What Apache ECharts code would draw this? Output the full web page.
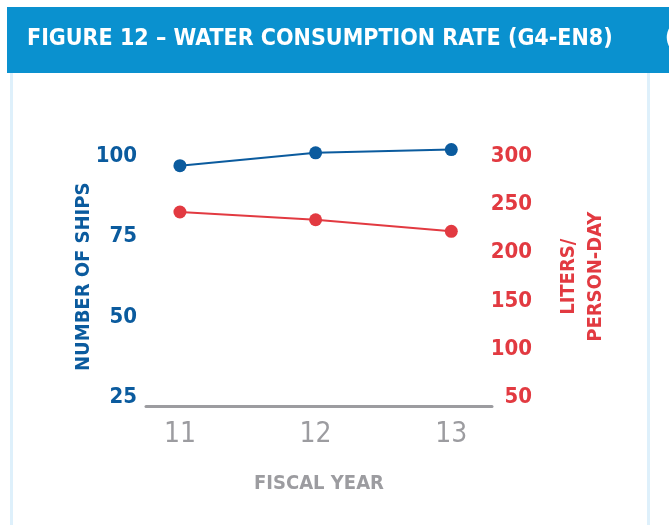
<!DOCTYPE html>
<html>
<head>
<meta charset="utf-8">
<style>
  html, body { margin: 0; padding: 0; background: #ffffff; }
  #chart { width: 669px; height: 525px; }
</style>
<script src="https://cdn.jsdelivr.net/npm/echarts@6/dist/echarts.min.js"></script>
</head>
<body>
<div id="chart"></div>
<script>
// Fiscal years on the horizontal axis
const fiscalYears = [11, 12, 13];
// Number of ships per fiscal year (left axis)
const shipCounts = [97, 101, 102];
// Water consumption, liters per person-day (right axis)
const litersPerPersonDay = [242, 234, 222];
// Tick labels
const shipTicks = [25, 50, 75, 100];
const literTicks = [50, 100, 150, 200, 250, 300];

const condensed = "'DejaVu Sans Condensed', 'Liberation Sans', sans-serif";
const BLUE = '#0b5b9e';
const RED = '#e23a41';
const GREY = '#9c9ca0';

const chart = echarts.init(document.getElementById('chart'), null, { renderer: 'canvas' });

chart.setOption({
  animation: false,
  backgroundColor: '#ffffff',
  graphic: [
    // header band and panel edges
    { type: 'rect', shape: { x: 7, y: 7, width: 662, height: 66 }, style: { fill: '#0a91cf' }, silent: true },
    { type: 'rect', shape: { x: 10, y: 73, width: 3, height: 452 }, style: { fill: '#def0fb' }, silent: true },
    { type: 'rect', shape: { x: 647, y: 73, width: 3, height: 452 }, style: { fill: '#def0fb' }, silent: true },
    {
      type: 'text', left: 27, top: 28,
      style: { text: 'FIGURE 12 – WATER CONSUMPTION RATE (G4-EN8)', fill: '#ffffff',
               font: "bold 23px " + condensed }
    },
    {
      type: 'text', left: 665, top: 28,
      style: { text: '(', fill: '#ffffff', font: "bold 23px " + condensed }
    }
  ],
  grid: { left: 146, right: 177, top: 156, bottom: 127.5 },
  xAxis: {
    type: 'value',
    min: 10.75,
    max: 13.3,
    offset: 9,
    axisLine: { show: true, lineStyle: { color: GREY, width: 3 } },
    axisTick: { show: false },
    splitLine: { show: false },
    axisLabel: {
      customValues: fiscalYears,
      color: GREY,
      fontFamily: condensed,
      fontSize: 28,
      margin: 14
    },
    name: 'FISCAL YEAR',
    nameLocation: 'middle',
    nameGap: 67,
    nameMoveOverlap: false,
    nameTextStyle: { color: GREY, fontFamily: condensed, fontWeight: 'bold', fontSize: 20 }
  },
  yAxis: [
    {
      type: 'value',
      position: 'left',
      min: shipTicks[0],
      max: shipTicks[shipTicks.length - 1],
      interval: shipTicks[1] - shipTicks[0],
      axisLine: { show: false },
      axisTick: { show: false },
      splitLine: { show: false },
      axisLabel: { color: BLUE, fontFamily: condensed, fontWeight: 'bold', fontSize: 22, margin: 9 },
      name: 'NUMBER OF SHIPS',
      nameLocation: 'middle',
      nameRotate: 90,
      nameGap: 52,
      nameMoveOverlap: false,
      nameTextStyle: { color: BLUE, fontFamily: condensed, fontWeight: 'bold', fontSize: 20 }
    },
    {
      type: 'value',
      position: 'right',
      min: literTicks[0],
      max: literTicks[literTicks.length - 1],
      interval: literTicks[1] - literTicks[0],
      axisLine: { show: false },
      axisTick: { show: false },
      splitLine: { show: false },
      axisLabel: { color: RED, fontFamily: condensed, fontWeight: 'bold', fontSize: 22, margin: 40, align: 'right' },
      name: 'LITERS/\nPERSON-DAY',
      nameLocation: 'middle',
      nameRotate: 90,
      nameGap: 63,
      nameMoveOverlap: false,
      nameTextStyle: { color: RED, fontFamily: condensed, fontWeight: 'bold', fontSize: 20, lineHeight: 27, align: 'center' }
    }
  ],
  series: [
    {
      name: 'Ships',
      type: 'line',
      yAxisIndex: 0,
      clip: false,
      data: fiscalYears.map((y, i) => [y, shipCounts[i]]),
      symbol: 'circle',
      symbolSize: 13,
      itemStyle: { color: BLUE },
      lineStyle: { color: BLUE, width: 2 }
    },
    {
      name: 'Liters/person-day',
      type: 'line',
      yAxisIndex: 1,
      clip: false,
      data: fiscalYears.map((y, i) => [y, litersPerPersonDay[i]]),
      symbol: 'circle',
      symbolSize: 13,
      itemStyle: { color: RED },
      lineStyle: { color: RED, width: 2 }
    }
  ]
});
</script>
</body>
</html>
